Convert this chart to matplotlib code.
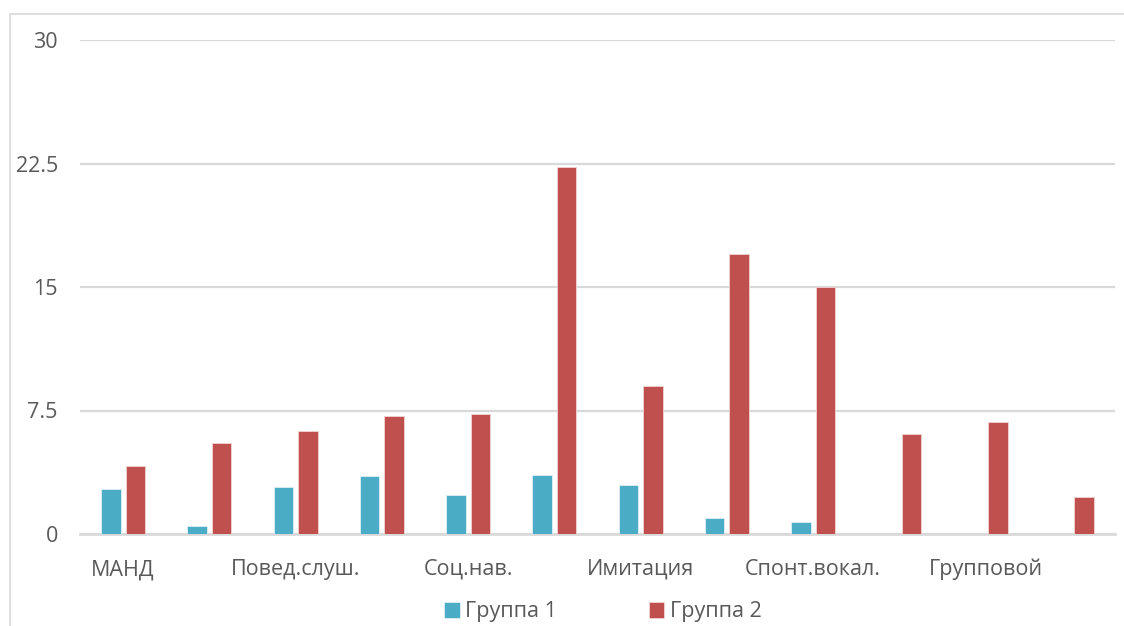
import numpy as np
import matplotlib.pyplot as plt
from matplotlib.patches import Rectangle

plt.rcParams['font.family'] = ['Open Sans', 'DejaVu Sans']

categories = ['МАНД', '', 'Повед.слуш.', '', 'Соц.нав.', '', 'Имитация', '',
              'Спонт.вокал.', '', 'Групповой', '']
group1 = [2.75, 0.5, 2.85, 3.5, 2.35, 3.6, 2.95, 1.0, 0.7, 0, 0, 0]
group2 = [4.1, 5.55, 6.25, 7.15, 7.3, 22.3, 9.0, 17.0, 15.0, 6.1, 6.8, 2.25]
yticks = [0, 7.5, 15, 22.5, 30]
ytick_labels = ['0', '7.5', '15', '22.5', '30']

blue = '#4BACC6'
red = '#C0504D'
grid = '#D9D9D9'
text = '#595959'

fig = plt.figure(figsize=(11.24, 6.26), dpi=100)
ax = fig.add_axes([80 / 1124, 1 - 534 / 626, 1035 / 1124, 494 / 626])

x = np.arange(len(categories))
w = 0.226
ax.bar(x - 0.143, group1, w, color=blue, edgecolor='#DDF0F5', linewidth=0.6,
       label='Группа 1', zorder=3)
ax.bar(x + 0.143, group2, w, color=red, edgecolor='#F0D4D3', linewidth=0.6,
       label='Группа 2', zorder=3)

ax.set_xlim(-0.5, 11.5)
ax.set_ylim(0, 30)
ax.set_yticks(yticks)
ax.set_yticklabels(ytick_labels)
ax.set_xticks(x)
ax.set_xticklabels(categories)
ax.tick_params(axis='y', length=0, pad=16, labelsize=15.5, labelcolor=text)
ax.tick_params(axis='x', length=0, pad=18, labelsize=15.5, labelcolor=text)
ax.grid(axis='y', color=grid, linewidth=1.6, zorder=0)
for side in ['top', 'right', 'left']:
    ax.spines[side].set_visible(False)
ax.spines['bottom'].set_color(grid)
ax.spines['bottom'].set_linewidth(2)

leg = fig.legend(loc='center', bbox_to_anchor=(603 / 1124, 1 - 612 / 626), ncol=2,
                 frameon=False, fontsize=15.5, handlelength=0.7, handleheight=0.7,
                 handletextpad=0.25, columnspacing=4.3, labelcolor=text)

# outer chart frame
fig.patches.append(Rectangle((10 / 1124, -0.1), 1.2, 1.1 - 14 / 626,
                             transform=fig.transFigure, fill=False,
                             edgecolor=grid, linewidth=1.2))

fig.savefig('out.png', dpi=100)
